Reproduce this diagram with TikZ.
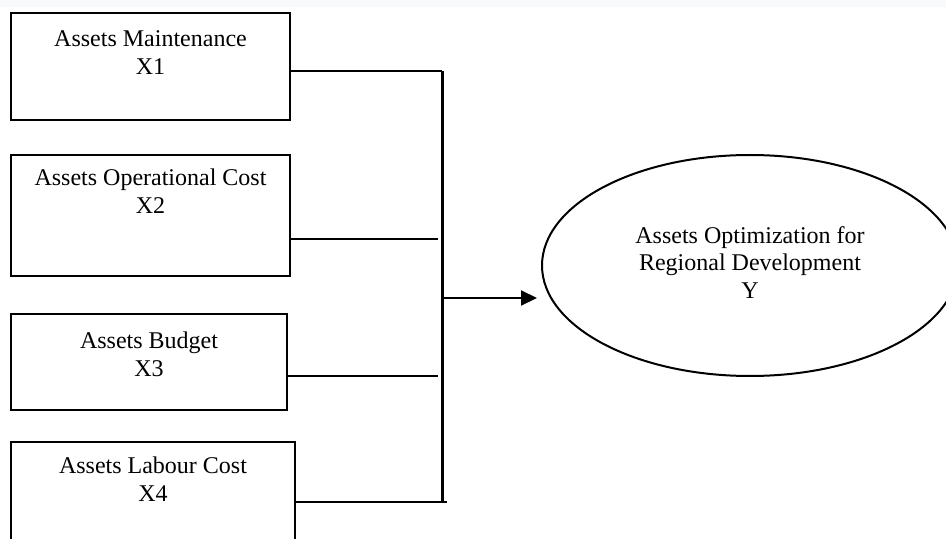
\documentclass[tikz,border=0pt]{standalone}
\usepackage{fontspec}
\setmainfont{Liberation Serif}
\usetikzlibrary{shapes.geometric,arrows.meta,positioning}
\definecolor{topgrey}{RGB}{248,249,250}

\begin{document}
\begin{tikzpicture}[x=0.5pt, y=-0.5pt,
        factor/.style={rectangle, draw=black, line width=1pt, anchor=north west, align=center, inner sep=0pt, font=\fontsize{12}{14}\selectfont},
        target/.style={ellipse, draw=black, line width=1pt, minimum width=208pt, minimum height=110.5pt, inner sep=0pt, align=center, font=\fontsize{12}{13.75}\selectfont},
        link/.style={line width=1pt},
        trunk/.style={line width=1.5pt},
        arrow/.style={-{Triangle[length=8pt, width=7.5pt]}, line width=1pt}]

        \useasboundingbox (0,0) rectangle (946,539);
        \clip (0,0) rectangle (946,539);
        \fill[topgrey] (0,0) rectangle (946,7);

        % Nodes
        \node[factor, minimum width=139.5pt, text height=31pt, text depth=22.5pt] (x1) at (10,12) {Assets Maintenance\\X1};
        \node[factor, minimum width=139.5pt, text height=29.5pt, text depth=31pt] (x2) at (10,154) {Assets Operational Cost\\X2};
        \node[factor, minimum width=138pt, text height=31pt, text depth=17pt] (x3) at (10,313) {Assets Budget\\X3};
        \node[factor, minimum width=142pt, text height=29.5pt, text depth=35pt] (x4) at (10,441) {Assets Labour Cost\\X4};

        \node[target, text height=37.5pt, text depth=4.5pt] (y) at (750,265.5) {Assets Optimization for\\Regional Development\\Y};

        % Connections
        \coordinate (top) at (442,71);
        \coordinate (bot) at (442,502);
        \coordinate (mid) at (442,298);
        \coordinate (j2) at (438,239);
        \coordinate (j3) at (438,376);
        \coordinate (j4) at (447,502);

        \draw[trunk] (top) -- (bot);
        \draw[link] (x1.east |- top) -- (top);
        \draw[link] (x2.east |- j2) -- (j2);
        \draw[link] (x3.east |- j3) -- (j3);
        \draw[link] (x4.east |- j4) -- (j4);
        \draw[arrow, shorten >=2pt] (mid) -- (mid -| y.west);

\end{tikzpicture}
\end{document}
